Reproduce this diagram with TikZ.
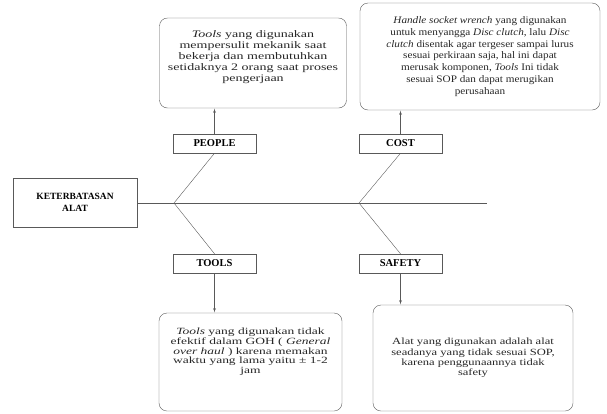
\documentclass[tikz,border=0pt]{standalone}
\usepackage{fontspec}
\setmainfont{Liberation Serif}
\usetikzlibrary{arrows}

\begin{document}
\begin{tikzpicture}[x=1pt,y=-1pt]

\tikzset{note/.style = {shape=rectangle,draw=black!65,rounded corners=8pt,align=center,text=black!85}}
\tikzset{cause/.style = {shape=rectangle,draw=black!65,minimum width=83pt,minimum height=19pt,font=\fontsize{10.5}{11}\selectfont\bfseries,inner sep=1pt}}
\tikzset{edge/.style = {->,> = latex',draw=black!65,shorten >=0.5pt}}
\useasboundingbox (0,0) rectangle (607,413);
%boxes
\node[draw=black!65,minimum width=124pt,minimum height=49pt,align=center,font=\fontsize{9.5}{11.5}\selectfont\bfseries] (alat) at (75,202.5) {KETERBATASAN\\ALAT};
\node[cause] (people) at (214.5,143.5) {PEOPLE};
\node[cause] (cost) at (400.5,143.5) {COST};
\node[cause] (tools) at (214.5,263.5) {TOOLS};
\node[cause] (safety) at (400.5,263.5) {SAFETY};
\node[note, minimum width=187pt, minimum height=90pt, font=\fontsize{10}{11}\selectfont\addfontfeature{FakeStretch=1.4}] (npeople) at (253,63) {\textit{Tools} yang digunakan\\mempersulit mekanik saat\\bekerja dan membutuhkan\\setidaknya 2 orang saat proses\\pengerjaan\\\strut};
\node[note, minimum width=240pt, minimum height=107pt, font=\fontsize{10}{11.7}\selectfont\addfontfeature{FakeStretch=1.12}] (ncost) at (480,56.5) {\textit{Handle socket wrench} yang digunakan\\untuk menyangga \textit{Disc clutch}, lalu \textit{Disc}\\\textit{clutch} disentak agar tergeser sampai lurus\\sesuai perkiraan saja, hal ini dapat\\merusak komponen, \textit{Tools} Ini tidak\\sesuai SOP dan dapat merugikan\\perusahaan};
\node[note, minimum width=183pt, minimum height=98pt, font=\fontsize{9.5}{9.8}\selectfont\addfontfeature{FakeStretch=1.42}] (ntools) at (250.5,362) {\textit{Tools} yang digunakan tidak\\efektif dalam GOH ( \textit{General}\\\textit{over haul} ) karena memakan\\waktu yang lama yaitu ± 1-2\\jam\\\strut\\\strut};
\node[note, minimum width=200pt, minimum height=106pt, font=\fontsize{9.5}{10.4}\selectfont\addfontfeature{FakeStretch=1.32}] (nsafety) at (473,358) {Alat yang digunakan adalah alat\\seadanya yang tidak sesuai SOP,\\karena penggunaannya tidak\\safety};
%spine
\coordinate (fork1) at (174,203);
\coordinate (fork2) at (359,203);
\coordinate (tail) at (487,203);
\draw[black!65] (alat.east |- fork1) -- (tail);
\draw[black!65] (people.south) -- (fork1) -- (tools.north);
\draw[black!65] (cost.south) -- (fork2) -- (safety.north);
%arrows
\draw[edge] (people.north) -- (people.north |- npeople.south);
\draw[edge] (cost.north) -- (cost.north |- ncost.south);
\draw[edge] (tools.south) -- (tools.south |- ntools.north);
\draw[edge] (safety.south) -- (safety.south |- nsafety.north);

\end{tikzpicture}
\end{document}
